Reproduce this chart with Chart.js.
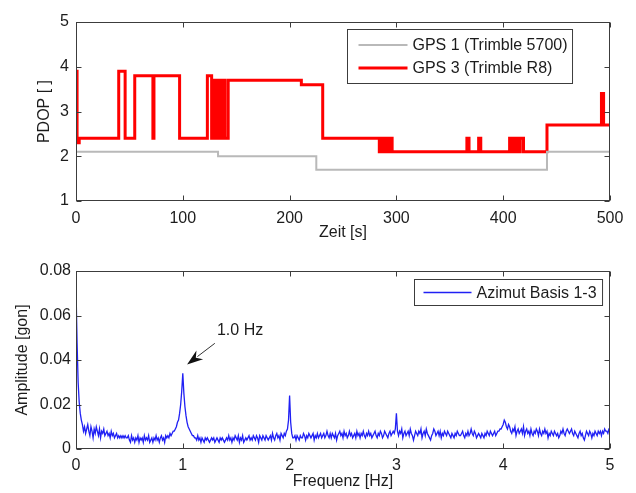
<!DOCTYPE html>
<html>
<head>
<meta charset="utf-8">
<script src="https://cdn.jsdelivr.net/npm/chart.js@4.4.1/dist/chart.umd.min.js"></script>
<style>
  body { margin: 0; background: #fff; }
  #top-wrap { position: absolute; left: 0; top: 0; }
  #bottom-wrap { position: absolute; left: 0; top: 246px; }
</style>
</head>
<body>
<div id="top-wrap"><canvas id="pdop-chart" width="636" height="246"></canvas></div>
<div id="bottom-wrap"><canvas id="fft-chart" width="636" height="247"></canvas></div>
<script>
// PDOP over time, stored as change points (value holds from that second on)
var gps1Time = [0, 133, 225, 441, 500];
var gps1Pdop = [2.1, 2.0, 1.7, 2.1, 2.1];

var gps3Time = [0, 1, 3, 40, 46, 55, 72, 73, 97, 123,
  127, 128, 129, 130, 131, 132.5, 133.5, 134.5, 135.5, 136.5,
  137.5, 138.5, 139.5, 142.5, 211, 231, 284, 285, 286, 287,
  288, 289, 290, 291, 292, 293, 294, 295, 296, 366,
  368, 377, 379, 406, 408, 409, 411, 413, 415, 416,
  419, 441, 492, 494, 500];
var gps3Pdop = [3.9, 2.3, 2.4, 3.9, 2.4, 3.8, 2.4, 3.8, 2.4, 3.8,
  2.4, 3.7, 2.4, 3.7, 2.4, 3.7, 2.4, 3.7, 2.4, 3.7,
  2.4, 3.7, 2.4, 3.7, 3.6, 2.4, 2.1, 2.4, 2.1, 2.4,
  2.1, 2.4, 2.1, 2.4, 2.1, 2.4, 2.1, 2.4, 2.1, 2.4,
  2.1, 2.4, 2.1, 2.4, 2.1, 2.4, 2.1, 2.4, 2.1, 2.4,
  2.1, 2.7, 3.4, 2.7, 2.7];

// amplitude spectrum, one value every 0.01 Hz from 0 to 5 Hz (one row = 0.2 Hz)
var freqStep = 0.01;
var azimutAmp = [
  0.072, 0.048, 0.030, 0.021, 0.016, 0.013, 0.011, 0.008, 0.010, 0.007, 0.009, 0.011, 0.008, 0.006, 0.010, 0.008, 0.005, 0.009, 0.007, 0.010,
  0.008, 0.006, 0.009, 0.005, 0.008, 0.007, 0.009, 0.006, 0.007, 0.008, 0.006, 0.007, 0.005, 0.008, 0.006, 0.007, 0.005, 0.006, 0.007, 0.005,
  0.006, 0.005, 0.006, 0.005, 0.006, 0.005, 0.006, 0.005, 0.005, 0.006, 0.004, 0.003, 0.006, 0.004, 0.005, 0.003, 0.005, 0.004, 0.006, 0.003,
  0.005, 0.004, 0.005, 0.003, 0.006, 0.004, 0.005, 0.004, 0.006, 0.003, 0.004, 0.005, 0.003, 0.005, 0.004, 0.006, 0.004, 0.005, 0.003, 0.005,
  0.006, 0.004, 0.005, 0.003, 0.006, 0.005, 0.006, 0.005, 0.007, 0.006, 0.007, 0.008, 0.008, 0.009, 0.010, 0.012, 0.013, 0.016, 0.020, 0.026,
  0.034, 0.025, 0.019, 0.015, 0.012, 0.010, 0.009, 0.008, 0.007, 0.006, 0.006, 0.005, 0.005, 0.004, 0.006, 0.004, 0.005, 0.003, 0.005, 0.004,
  0.003, 0.005, 0.004, 0.005, 0.004, 0.003, 0.004, 0.005, 0.004, 0.005, 0.003, 0.004, 0.005, 0.004, 0.003, 0.005, 0.004, 0.005, 0.004, 0.003,
  0.004, 0.005, 0.004, 0.006, 0.004, 0.005, 0.003, 0.005, 0.004, 0.006, 0.005, 0.004, 0.006, 0.003, 0.005, 0.004, 0.006, 0.003, 0.004, 0.005,
  0.004, 0.005, 0.006, 0.004, 0.005, 0.004, 0.006, 0.005, 0.004, 0.006, 0.005, 0.003, 0.006, 0.005, 0.004, 0.006, 0.005, 0.004, 0.006, 0.005,
  0.004, 0.005, 0.006, 0.004, 0.007, 0.005, 0.004, 0.006, 0.007, 0.005, 0.006, 0.004, 0.007, 0.006, 0.005, 0.007, 0.006, 0.008, 0.009, 0.013,
  0.024, 0.012, 0.007, 0.005, 0.005, 0.006, 0.004, 0.006, 0.005, 0.004, 0.006, 0.005, 0.005, 0.007, 0.006, 0.004, 0.006, 0.005, 0.007, 0.006,
  0.005, 0.006, 0.007, 0.004, 0.006, 0.005, 0.007, 0.005, 0.006, 0.007, 0.005, 0.006, 0.007, 0.005, 0.006, 0.008, 0.006, 0.005, 0.007, 0.005,
  0.007, 0.006, 0.005, 0.007, 0.004, 0.006, 0.007, 0.008, 0.006, 0.007, 0.005, 0.008, 0.006, 0.007, 0.005, 0.006, 0.008, 0.006, 0.007, 0.005,
  0.006, 0.007, 0.005, 0.008, 0.006, 0.007, 0.005, 0.007, 0.006, 0.008, 0.006, 0.005, 0.007, 0.006, 0.008, 0.006, 0.007, 0.005, 0.006, 0.007,
  0.008, 0.006, 0.005, 0.007, 0.006, 0.008, 0.007, 0.005, 0.006, 0.008, 0.007, 0.006, 0.005, 0.007, 0.008, 0.006, 0.007, 0.008, 0.007, 0.009,
  0.016, 0.008, 0.006, 0.008, 0.007, 0.009, 0.005, 0.007, 0.008, 0.006, 0.007, 0.008, 0.006, 0.009, 0.007, 0.006, 0.004, 0.006, 0.008, 0.007,
  0.006, 0.008, 0.007, 0.009, 0.005, 0.007, 0.008, 0.006, 0.009, 0.007, 0.006, 0.005, 0.004, 0.006, 0.007, 0.009, 0.008, 0.006, 0.007, 0.008,
  0.006, 0.008, 0.005, 0.007, 0.006, 0.008, 0.007, 0.006, 0.008, 0.007, 0.006, 0.005, 0.007, 0.006, 0.005, 0.007, 0.006, 0.008, 0.007, 0.006,
  0.006, 0.007, 0.008, 0.006, 0.005, 0.007, 0.006, 0.008, 0.006, 0.007, 0.009, 0.007, 0.006, 0.008, 0.007, 0.005, 0.006, 0.007, 0.006, 0.005,
  0.007, 0.006, 0.005, 0.007, 0.006, 0.008, 0.007, 0.006, 0.008, 0.007, 0.006, 0.007, 0.008, 0.006, 0.007, 0.008, 0.008, 0.009, 0.009, 0.010,
  0.011, 0.013, 0.012, 0.010, 0.009, 0.011, 0.010, 0.008, 0.007, 0.009, 0.008, 0.010, 0.006, 0.008, 0.009, 0.007, 0.008, 0.009, 0.007, 0.010,
  0.006, 0.008, 0.009, 0.007, 0.008, 0.006, 0.009, 0.007, 0.006, 0.008, 0.007, 0.009, 0.008, 0.006, 0.009, 0.007, 0.006, 0.008, 0.007, 0.009,
  0.007, 0.008, 0.005, 0.007, 0.006, 0.008, 0.007, 0.006, 0.008, 0.007, 0.006, 0.007, 0.005, 0.006, 0.008, 0.007, 0.009, 0.007, 0.006, 0.008,
  0.009, 0.008, 0.007, 0.008, 0.009, 0.007, 0.006, 0.008, 0.007, 0.006, 0.005, 0.007, 0.008, 0.006, 0.007, 0.005, 0.004, 0.006, 0.008, 0.007,
  0.006, 0.008, 0.007, 0.005, 0.007, 0.006, 0.008, 0.007, 0.006, 0.008, 0.007, 0.008, 0.006, 0.008, 0.007, 0.009, 0.008, 0.008, 0.007, 0.009,
  0.009
];

var FONT = '"Liberation Sans", Arial, Helvetica, sans-serif';
var INK = '#1c1c1c';
Chart.defaults.font.family = FONT;
Chart.defaults.font.size = 16;
Chart.defaults.color = INK;

function toPoints(xs, ys) {
  var pts = [];
  for (var i = 0; i < ys.length; i++) pts.push({x: xs[i], y: ys[i]});
  return pts;
}

// matlab style box with inward ticks, boxed legend and an arrow note
var matlabAxes = {
  id: 'matlabAxes',
  afterDraw: function(chart, args, opts) {
    var ctx = chart.ctx;
    var area = chart.chartArea;
    var xs = chart.scales.x, ys = chart.scales.y;
    var l = Math.round(area.left) + 0.5, r = Math.round(area.right) - 0.5;
    var t = Math.round(area.top) + 0.5, b = Math.round(area.bottom) - 0.5;
    ctx.save();
    ctx.strokeStyle = '#3c3c3c';
    ctx.lineWidth = 1;
    ctx.strokeRect(l, t, r - l, b - t);
    ctx.beginPath();
    xs.ticks.forEach(function(tk) {
      var px = Math.round(xs.getPixelForValue(tk.value)) + 0.5;
      ctx.moveTo(px, b); ctx.lineTo(px, b - 5);
      ctx.moveTo(px, t); ctx.lineTo(px, t + 5);
    });
    ys.ticks.forEach(function(tk) {
      var py = Math.round(ys.getPixelForValue(tk.value)) + 0.5;
      ctx.moveTo(l, py); ctx.lineTo(l + 5, py);
      ctx.moveTo(r, py); ctx.lineTo(r - 5, py);
    });
    ctx.stroke();

    var lg = opts.legend;
    if (lg) {
      var sets = chart.data.datasets;
      ctx.font = '16px ' + FONT;
      var maxW = 0;
      sets.forEach(function(ds) { maxW = Math.max(maxW, ctx.measureText(ds.label).width); });
      var w = lg.textStart + maxW + lg.padRight;
      var h = lg.padY * 2 + lg.rowHeight * sets.length;
      var bx = Math.round(area.right - lg.rightGap - w) + 0.5;
      var by = Math.round(area.top + lg.topGap) + 0.5;
      ctx.fillStyle = '#fff';
      ctx.fillRect(bx, by, w, h);
      ctx.strokeStyle = '#3c3c3c';
      ctx.lineWidth = 1;
      ctx.strokeRect(bx, by, w, h);
      ctx.textAlign = 'left';
      ctx.textBaseline = 'middle';
      sets.forEach(function(ds, i) {
        var cy = by + lg.padY + lg.rowHeight * (i + 0.5);
        ctx.strokeStyle = ds.borderColor;
        ctx.lineWidth = ds.borderWidth;
        ctx.beginPath();
        ctx.moveTo(bx + lg.sampleStart, cy);
        ctx.lineTo(bx + lg.sampleEnd, cy);
        ctx.stroke();
        ctx.fillStyle = INK;
        ctx.fillText(ds.label, bx + lg.textStart, cy + 1);
      });
    }

    var ar = opts.arrow;
    if (ar) {
      var tx = xs.getPixelForValue(ar.tip[0]), ty = ys.getPixelForValue(ar.tip[1]);
      var sx = xs.getPixelForValue(ar.tail[0]), sy = ys.getPixelForValue(ar.tail[1]);
      var ang = Math.atan2(ty - sy, tx - sx);
      var len = 13, half = 5.5;
      var bxp = tx - len * Math.cos(ang), byp = ty - len * Math.sin(ang);
      ctx.strokeStyle = '#333';
      ctx.lineWidth = 1;
      ctx.beginPath();
      ctx.moveTo(sx, sy);
      ctx.lineTo(bxp, byp);
      ctx.stroke();
      ctx.fillStyle = '#111';
      ctx.beginPath();
      ctx.moveTo(tx, ty);
      ctx.lineTo(bxp - half * Math.sin(ang) - 3 * Math.cos(ang), byp + half * Math.cos(ang) - 3 * Math.sin(ang));
      ctx.lineTo(bxp + 2 * Math.cos(ang), byp + 2 * Math.sin(ang));
      ctx.lineTo(bxp + half * Math.sin(ang) - 3 * Math.cos(ang), byp - half * Math.cos(ang) - 3 * Math.sin(ang));
      ctx.closePath();
      ctx.fill();
      ctx.font = '16px ' + FONT;
      ctx.fillStyle = INK;
      ctx.textAlign = 'left';
      ctx.textBaseline = 'middle';
      ctx.fillText(ar.text, xs.getPixelForValue(ar.label[0]), ys.getPixelForValue(ar.label[1]));
    }
    ctx.restore();
  }
};

function axisX(min, max, step, title, titlePadBottom, height, tickPad) {
  return {
    type: 'linear', min: min, max: max,
    grid: { display: false }, border: { display: false },
    ticks: { stepSize: step, autoSkip: false, maxRotation: 0, padding: tickPad },
    title: { display: true, text: title, padding: { top: 0, bottom: titlePadBottom } },
    afterFit: function(s) { s.height = height; }
  };
}
function axisY(min, max, step, title, titlePadTop, width, tickPad) {
  return {
    min: min, max: max,
    grid: { display: false }, border: { display: false },
    ticks: { stepSize: step, autoSkip: false, padding: tickPad },
    title: { display: true, text: title, padding: { top: titlePadTop, bottom: 0 } },
    afterFit: function(s) { s.width = width; }
  };
}

new Chart(document.getElementById('pdop-chart').getContext('2d'), {
  type: 'line',
  data: {
    datasets: [{
      label: 'GPS 1 (Trimble 5700)',
      data: toPoints(gps1Time, gps1Pdop),
      borderColor: '#b9b9b9', borderWidth: 2,
      stepped: true, pointRadius: 0, fill: false
    }, {
      label: 'GPS 3 (Trimble R8)',
      data: toPoints(gps3Time, gps3Pdop),
      borderColor: '#ff0000', borderWidth: 3,
      stepped: true, pointRadius: 0, fill: false
    }]
  },
  options: {
    responsive: false, animation: false,
    layout: { padding: { left: 0, right: 26, top: 22, bottom: 0 } },
    plugins: {
      legend: { display: false }, tooltip: { enabled: false },
      matlabAxes: {
        legend: { rightGap: 38, topGap: 7, rowHeight: 23, padY: 4, sampleStart: 11, sampleEnd: 60, textStart: 65, padRight: 5 }
      }
    },
    scales: {
      x: axisX(0, 500, 100, 'Zeit [s]', 4, 45, 0),
      y: axisY(1, 5, 1, 'PDOP [ ]', 35, 76, -1)
    }
  },
  plugins: [matlabAxes]
});

var fftPoints = azimutAmp.map(function(v, i) { return {x: +(i * freqStep).toFixed(2), y: v}; });

new Chart(document.getElementById('fft-chart').getContext('2d'), {
  type: 'line',
  data: {
    datasets: [{
      label: 'Azimut Basis 1-3',
      data: fftPoints,
      borderColor: '#2020f4', borderWidth: 1.3,
      tension: 0, pointRadius: 0, fill: false
    }]
  },
  options: {
    responsive: false, animation: false,
    layout: { padding: { left: 0, right: 26, top: 25, bottom: 0 } },
    plugins: {
      legend: { display: false }, tooltip: { enabled: false },
      matlabAxes: {
        legend: { rightGap: 8, topGap: 8, rowHeight: 20, padY: 3, sampleStart: 9, sampleEnd: 57, textStart: 62, padRight: 6 },
        arrow: { text: '1.0 Hz', tip: [1.04, 0.038], tail: [1.30, 0.0475], label: [1.32, 0.053] }
      }
    },
    scales: {
      x: axisX(0, 5, 1, 'Frequenz [Hz]', 2, 44, -1),
      y: axisY(0, 0.08, 0.02, 'Amplitude [gon]', 13, 76, -3)
    }
  },
  plugins: [matlabAxes]
});
</script>
</body>
</html>
